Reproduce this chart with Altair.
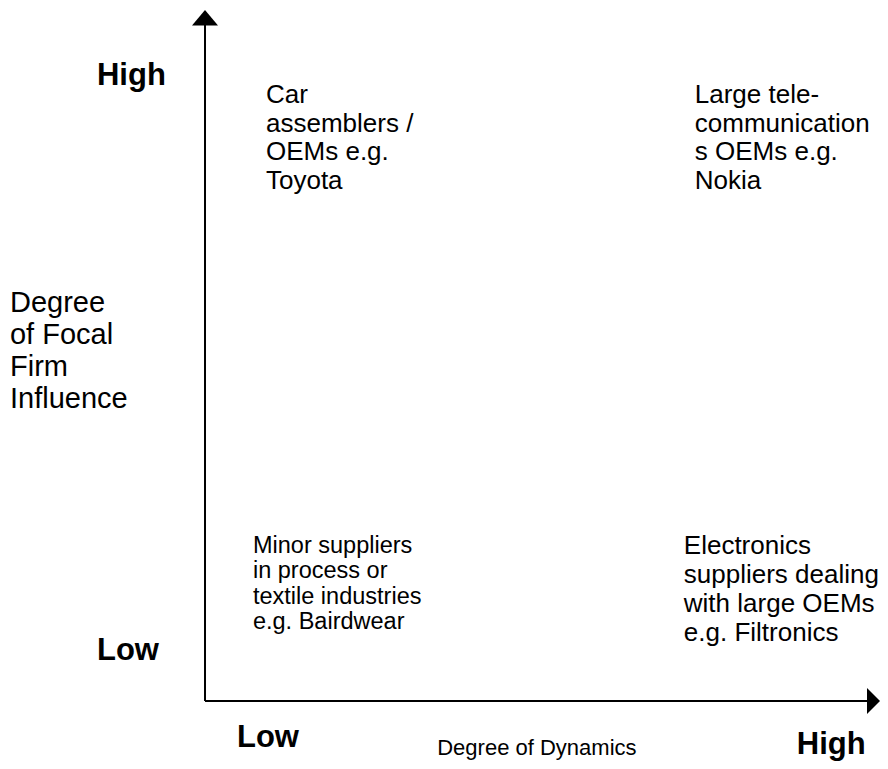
import altair as alt
import pandas as pd

# ---- content ----
quadrant_texts = [
    "Car\nassemblers /\nOEMs e.g.\nToyota",
    "Large tele-\ncommunication\ns OEMs e.g.\nNokia",
    "Minor suppliers\nin process or\ntextile industries\ne.g. Bairdwear",
    "Electronics\nsuppliers dealing\nwith large OEMs\ne.g. Filtronics",
]
quadrant_dyn = ["Low", "High", "Low", "High"]      # degree of dynamics
quadrant_inf = ["High", "High", "Low", "Low"]      # degree of focal firm influence
level_labels = ["Low", "High"]
x_title = "Degree of Dynamics"
y_title = "Degree\nof Focal\nFirm\nInfluence"

# ---- layout frame (diagram units: origin of arrows = 0, arrow tips ~ 100) ----
XDOM = [-28.76, 98.54]
YDOM = [-8.68, 100.29]
W, H = 872, 753
FONT = "Liberation Sans"

xs = alt.Scale(domain=XDOM, nice=False, zero=False)
ys = alt.Scale(domain=YDOM, nice=False, zero=False)

# per-quadrant placement / type styling
place = {
    ("Low", "High"):  dict(x=8.9,  y=89.58, fs=26.0, lh=28.5),
    ("High", "High"): dict(x=71.5, y=89.58, fs=26.0, lh=28.5),
    ("Low", "Low"):   dict(x=7.0,  y=24.17, fs=23.5, lh=25.3),
    ("High", "Low"):  dict(x=69.9, y=24.31, fs=26.0, lh=29.0),
}

X = lambda: alt.X("x:Q", scale=xs, axis=None)
Y = lambda: alt.Y("y:Q", scale=ys, axis=None)

layers = []

axes_df = pd.DataFrame([
    {"x": 0, "y": 0, "x2": 0, "y2": 98},
    {"x": 0, "y": 0, "x2": 97, "y2": 0},
])
heads_df = pd.DataFrame([
    {"x": 0, "y": 100, "shape": "M0,0L-1,1.2L1,1.2Z"},
    {"x": 98.54, "y": 0, "shape": "M0,0L-1,-1L-1,1Z"},
])
layers.append(alt.Chart(axes_df).mark_rule(color="black", strokeWidth=2).encode(
    x=X(), y=Y(), x2="x2:Q", y2="y2:Q"))
layers.append(alt.Chart(heads_df).mark_point(
    filled=True, opacity=1, color="black", size=676, strokeWidth=0
).encode(x=X(), y=Y(), shape=alt.Shape("shape:N", scale=None)))

for t, d, i in zip(quadrant_texts, quadrant_dyn, quadrant_inf):
    p = place[(d, i)]
    df = pd.DataFrame([{"text": t, "x": p["x"], "y": p["y"]}])
    layers.append(alt.Chart(df).mark_text(
        align="left", baseline="top", font=FONT, fontSize=p["fs"],
        lineHeight=p["lh"], lineBreak="\n", color="black"
    ).encode(x=X(), y=Y(), text="text:N"))

bold_df = pd.DataFrame([
    {"text": level_labels[1], "x": -15.77, "y": 89.15},
    {"text": level_labels[0], "x": -15.77, "y": 5.93},
    {"text": level_labels[0], "x": 4.67, "y": -6.66},
    {"text": level_labels[1], "x": 86.4, "y": -7.67},
])
layers.append(alt.Chart(bold_df).mark_text(
    align="left", baseline="alphabetic", font=FONT, fontSize=31,
    fontWeight="bold", color="black"
).encode(x=X(), y=Y(), text="text:N"))

xt_df = pd.DataFrame([{"text": x_title, "x": 33.9, "y": -7.81}])
layers.append(alt.Chart(xt_df).mark_text(
    align="left", baseline="alphabetic", font=FONT, fontSize=22, color="black"
).encode(x=X(), y=Y(), text="text:N"))

yt_df = pd.DataFrame([{"text": y_title, "x": -28.47, "y": 59.62}])
layers.append(alt.Chart(yt_df).mark_text(
    align="left", baseline="top", font=FONT, fontSize=29, lineHeight=32,
    lineBreak="\n", color="black"
).encode(x=X(), y=Y(), text="text:N"))

chart = alt.layer(*layers).properties(
    width=W, height=H, autosize=alt.AutoSizeParams(type="none"), padding=0
).configure_view(stroke=None)

chart.save("out.html", embed_options={"renderer": "svg", "actions": False})
